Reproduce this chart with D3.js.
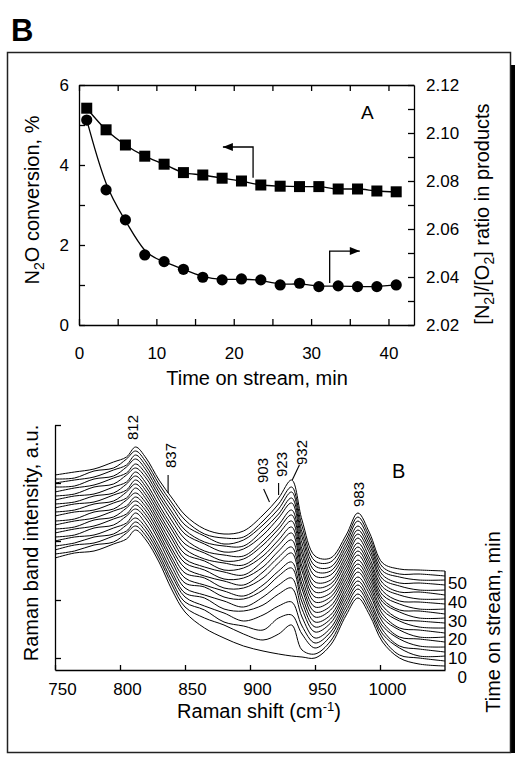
<!DOCTYPE html>
<html><head><meta charset="utf-8">
<script src="https://cdn.jsdelivr.net/npm/d3@7"></script>
<style>
body{margin:0;background:#fff}
svg{display:block}
text{font-family:"Liberation Sans",Arial,Helvetica,sans-serif;fill:#000}
</style>
</head><body>
<svg id="c" width="515" height="757"></svg>
<script>
// ---------- Panel A data ----------
const timeOnStream = [1,3.5,6,8.5,11,13.5,16,18.5,21,23.5,26,28.5,31,33.5,36,38.5,41];
const n2oConversion = [5.42,4.88,4.5,4.22,4.02,3.81,3.75,3.67,3.6,3.5,3.47,3.46,3.46,3.4,3.4,3.35,3.33];
const n2o2Ratio = [2.1054,2.0763,2.0638,2.0492,2.0464,2.0432,2.0399,2.0388,2.0392,2.0388,2.0367,2.0374,2.0360,2.0363,2.0360,2.0360,2.0367];
const timeTicksA = [0,5,10,15,20,25,30,35,40];
const timeLabelsA = [0,10,20,30,40];
const convTicks = [0,1,2,3,4,5,6];
const convLabels = [0,2,4,6];
const ratioTicks = [2.02,2.03,2.04,2.05,2.06,2.07,2.08,2.09,2.10,2.11,2.12];
const ratioLabels = [2.02,2.04,2.06,2.08,2.10,2.12];
// arrow anchors (time, value)
const convArrow = [[22.5,3.68],[22.5,4.45],[18.6,4.45]];
const ratioArrow = [[32.4,2.0375],[32.4,2.0508],[36.3,2.0508]];

// ---------- Panel B data ----------
const wavenumbers = [750,765,780,795,805,812,820,830,840,850,865,880,895,910,922,932,940,950,962,974,983,992,1002,1015,1030,1050];
const spectra = [
 [112,117,119,126,131,140,130,108,80,58,42,32,24,19,16,14,13,12,25,55,72,55,28,12,6,4],
 [116,119,125,128,137,144,134,112,85,63,52,45,36,30,36,45,20,16,29,59,76,59,32,15,12,9],
 [120,125,127,134,139,148,138,116,89,68,60,48,44,40,52,55,36,22,34,63,81,63,36,22,14,14],
 [124,127,133,136,145,152,142,120,94,73,64,57,49,55,64,68,44,27,38,67,85,67,40,24,21,18],
 [129,133,135,142,147,157,146,124,98,77,72,61,59,65,76,82,53,32,42,71,89,71,44,31,24,23],
 [133,135,142,145,154,161,151,129,103,82,75,69,63,73,85,92,61,38,47,75,93,76,48,33,31,28],
 [137,141,144,151,156,165,155,133,108,87,83,73,71,80,94,102,68,43,51,79,98,80,52,40,33,33],
 [141,143,150,153,162,169,159,137,112,92,85,79,74,85,99,108,74,48,55,83,102,84,56,42,40,37],
 [145,149,152,159,164,173,163,141,117,97,92,82,82,92,107,117,81,53,60,87,106,88,60,49,43,42],
 [149,151,158,161,170,177,167,145,121,102,94,89,85,98,113,123,86,58,64,91,110,92,64,51,49,47],
 [154,158,160,167,172,182,171,149,126,107,100,91,92,103,119,130,92,63,69,95,115,96,68,58,52,52],
 [158,160,166,169,178,186,175,153,131,111,103,98,95,109,125,137,99,68,73,99,119,100,71,60,59,56],
 [162,166,168,175,180,190,179,157,135,116,109,100,102,114,130,143,104,73,77,103,123,104,75,66,61,61],
 [166,168,174,177,186,194,183,161,140,121,111,107,105,119,136,149,110,78,82,107,127,108,79,69,68,66],
 [170,174,176,183,188,198,187,165,144,126,117,109,111,125,141,155,116,83,86,111,132,112,83,75,71,71],
 [174,176,183,186,195,202,192,170,149,131,119,115,114,129,145,160,121,88,90,115,136,117,87,78,78,75],
 [178,182,185,192,197,206,196,174,154,136,126,118,121,135,152,167,127,94,95,119,140,121,91,84,80,80],
 [183,184,191,194,203,211,200,178,158,140,128,124,124,140,156,172,133,99,99,123,144,125,95,87,87,85],
 [187,190,193,200,205,215,204,182,163,145,134,126,130,145,161,178,138,104,103,127,149,129,99,93,90,90],
 [191,192,199,202,211,219,208,186,167,150,136,132,133,149,166,183,144,109,108,131,153,133,103,96,96,94],
 [195,198,201,208,213,223,212,190,172,155,141,136,139,155,172,190,150,114,112,135,157,137,107,101,100,99]
];
const ramanTicks = [750,800,850,900,950,1000];
const intensityTicks = [12,70,129,187,245];
const streamTicks = [0,10,20,30,40,50];
const peakLabels = ["812","837","903","923","932","983"];

// ---------- drawing ----------
const svg = d3.select('#c');
const FONT = '"Liberation Sans",Arial,Helvetica,sans-serif';

// outer frame with right shadow
svg.append('rect').attr('x',510).attr('y',65).attr('width',5).attr('height',688).attr('fill','#000');
svg.append('rect').attr('x',7.5).attr('y',52.5).attr('width',503).attr('height',700)
  .attr('fill','none').attr('stroke','#222').attr('stroke-width',1.5);
svg.append('text').attr('x',11).attr('y',41).attr('font-size',31).attr('font-weight','bold').text('B');

function styleAxis(g, fs){
  g.attr('font-family',FONT).attr('font-size',fs);
  g.selectAll('path,line').attr('stroke','#000').attr('stroke-width',1.3);
  g.selectAll('text').attr('fill','#000');
}

// ===== Panel A =====
const xA = d3.scaleLinear().domain([0,43.3]).range([79,414]);
const yL = d3.scaleLinear().domain([0,6]).range([325,85]);
const yR = d3.scaleLinear().domain([2.02,2.12]).range([325,85]);

svg.append('g').attr('transform','translate(0,325)')
  .call(d3.axisBottom(xA).tickValues(timeTicksA).tickSize(-6).tickSizeOuter(0).tickPadding(22)
        .tickFormat(d => timeLabelsA.includes(d) ? d : ''))
  .call(styleAxis,17);
svg.append('g').attr('transform','translate(0,85)')
  .call(d3.axisTop(xA).tickValues(timeTicksA).tickSize(-6).tickSizeOuter(0).tickFormat(''))
  .call(styleAxis,17);
svg.append('g').attr('transform','translate(79,0)')
  .call(d3.axisLeft(yL).tickValues(convTicks).tickSize(-6).tickSizeOuter(0).tickPadding(10)
        .tickFormat(d => convLabels.includes(d) ? d : ''))
  .call(styleAxis,17);
svg.append('g').attr('transform','translate(414,0)')
  .call(d3.axisRight(yR).tickValues(ratioTicks).tickSize(-6).tickSizeOuter(0).tickPadding(12)
        .tickFormat(d => ratioLabels.some(v => Math.abs(v-d)<1e-9) ? d3.format('.2f')(d) : ''))
  .call(styleAxis,17);

// lines
svg.append('path').datum(timeOnStream.map((t,i)=>[t,n2oConversion[i]]))
  .attr('d', d3.line().x(d=>xA(d[0])).y(d=>yL(d[1])).curve(d3.curveMonotoneX))
  .attr('fill','none').attr('stroke','#000').attr('stroke-width',1.3);
svg.append('path').datum(timeOnStream.map((t,i)=>[t,n2o2Ratio[i]]))
  .attr('d', d3.line().x(d=>xA(d[0])).y(d=>yR(d[1])).curve(d3.curveBasis))
  .attr('fill','none').attr('stroke','#000').attr('stroke-width',1.3);

// markers
svg.append('g').selectAll('rect').data(timeOnStream).join('rect')
  .attr('x',(t)=>xA(t)-5.5).attr('y',(t,i)=>yL(n2oConversion[i])-5.5)
  .attr('width',11).attr('height',11).attr('fill','#000');
svg.append('g').selectAll('circle').data(timeOnStream).join('circle')
  .attr('cx',t=>xA(t)).attr('cy',(t,i)=>yR(n2o2Ratio[i])).attr('r',5.6).attr('fill','#000');

// arrows
function arrow(pts){
  svg.append('path').datum(pts).attr('d', d3.line()).attr('fill','none').attr('stroke','#000').attr('stroke-width',1.3);
  const [x1,y1] = pts[pts.length-2], [x2,y2] = pts[pts.length-1];
  const a = Math.atan2(y2-y1, x2-x1), L = 10, Wd = 4;
  const bx = x2 - L*Math.cos(a), by = y2 - L*Math.sin(a);
  svg.append('path').attr('d', `M${x2},${y2}L${bx - Wd*Math.sin(a)},${by + Wd*Math.cos(a)}L${bx + Wd*Math.sin(a)},${by - Wd*Math.cos(a)}Z`).attr('fill','#000');
}
arrow(convArrow.map(d=>[xA(d[0]), yL(d[1])]));
arrow(ratioArrow.map(d=>[xA(d[0]), yR(d[1])]));

svg.append('text').attr('x',361).attr('y',119).attr('font-size',19).text('A');

// titles A
svg.append('text').attr('x',257).attr('y',385).attr('text-anchor','middle').attr('font-size',20).text('Time on stream, min');
const tl = svg.append('text').attr('transform','translate(39,200) rotate(-90)').attr('text-anchor','middle').attr('font-size',20);
tl.append('tspan').text('N');
tl.append('tspan').attr('dy',5).attr('font-size',14).text('2');
tl.append('tspan').attr('dy',-5).text('O conversion, %');
const tr = svg.append('text').attr('transform','translate(489,214) rotate(-90)').attr('text-anchor','middle').attr('font-size',20);
tr.append('tspan').text('[N');
tr.append('tspan').attr('dy',5).attr('font-size',14).text('2');
tr.append('tspan').attr('dy',-5).text(']/[O');
tr.append('tspan').attr('dy',5).attr('font-size',14).text('2');
tr.append('tspan').attr('dy',-5).text('] ratio in products');

// ===== Panel B =====
const xB = d3.scaleLinear().domain([750,1050]).range([55,445]);
const yB = d3.scaleLinear().domain([0,245]).range([670,425]);
const tB = d3.scaleLinear().domain([0,50]).range([677,583]);

const specLine = d3.line().x((v,i)=>xB(wavenumbers[i])).y(v=>yB(v)).curve(d3.curveCatmullRom.alpha(0.5));
svg.append('g').selectAll('path').data(spectra).join('path')
  .attr('d', specLine).attr('fill','none').attr('stroke','#000').attr('stroke-width',1);

const bx = svg.append('g').attr('transform','translate(0,670)')
  .call(d3.axisBottom(xB).tickValues(ramanTicks).tickSize(-5).tickSizeOuter(0).tickPadding(13).tickFormat(d3.format('d')))
  .call(styleAxis,17);
bx.selectAll('text').attr('x',7);
svg.append('g').attr('transform','translate(55,0)')
  .call(d3.axisLeft(yB).tickValues(intensityTicks).tickSize(-6).tickSizeOuter(0).tickFormat(''))
  .call(styleAxis,17);
// right edge line
svg.append('line').attr('x1',xB(1050)).attr('x2',xB(1050))
  .attr('y1',yB(spectra[spectra.length-1][wavenumbers.length-1])).attr('y2',yB(0))
  .attr('stroke','#000').attr('stroke-width',1.3);
svg.append('g').selectAll('text').data(streamTicks).join('text')
  .attr('x',467).attr('y',d=>tB(d)).attr('dy','0.35em').attr('text-anchor','end').attr('font-size',17).text(d=>d);

// peak labels
const peakPos = {"812":[812,0,440],"837":[837,6,468],"903":[903,12,483],"923":[923,5,477],"932":[932,13,465],"983":[983,4,507]};
peakLabels.forEach(p=>{
  const [w,dx,y] = peakPos[p];
  svg.append('text').attr('transform',`translate(${xB(w)+dx+2},${y}) rotate(-90)`).attr('font-size',15).text(p);
});
const leaders = [[[837,475],[837,493]],[[910.5,489],[915,502]],[[922,483],[922,495]],[[938,465],[932.5,480]]];
leaders.forEach(l=>{
  svg.append('line').attr('x1',xB(l[0][0])).attr('y1',l[0][1]).attr('x2',xB(l[1][0])).attr('y2',l[1][1])
    .attr('stroke','#000').attr('stroke-width',1.1);
});
svg.append('text').attr('x',392).attr('y',478).attr('font-size',20).text('B');

// titles B
const xt = svg.append('text').attr('x',259).attr('y',718).attr('text-anchor','middle').attr('font-size',20);
xt.append('tspan').text('Raman shift (cm');
xt.append('tspan').attr('dy',-7).attr('font-size',13).text('-1');
xt.append('tspan').attr('dy',7).text(')');
svg.append('text').attr('transform','translate(38,543) rotate(-90)').attr('text-anchor','middle').attr('font-size',20).text('Raman band intensity, a.u.');
svg.append('text').attr('transform','translate(500,622) rotate(-90)').attr('text-anchor','middle').attr('font-size',20).text('Time on stream, min');
</script>
</body></html>
